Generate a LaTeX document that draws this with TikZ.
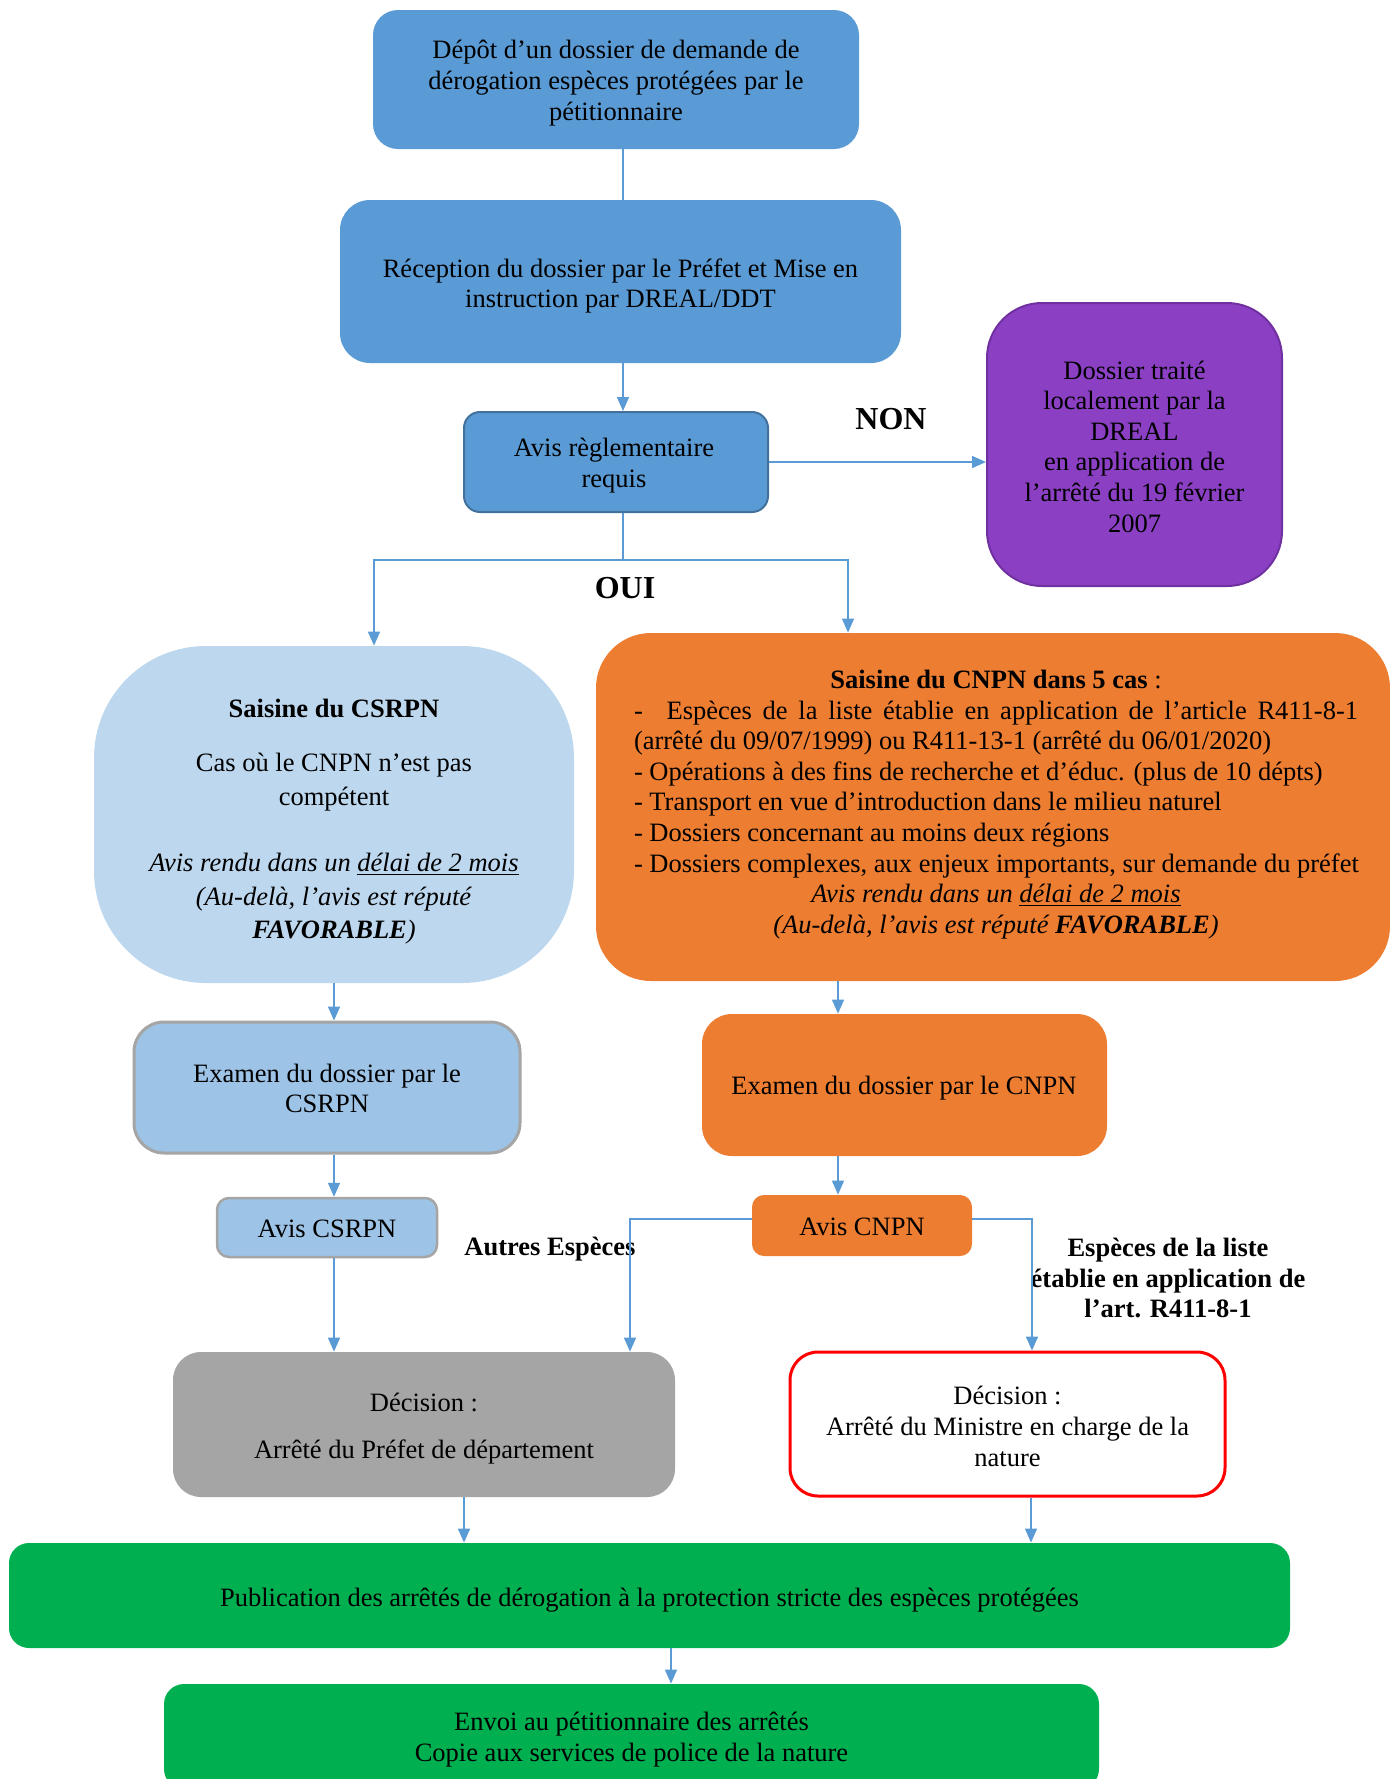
\documentclass[tikz,border=0pt]{standalone}
\usepackage{fontspec}
\setmainfont{Liberation Serif}
\usetikzlibrary{arrows.meta}
\definecolor{boxblue}{HTML}{5B9BD5}
\definecolor{boxblueb}{HTML}{41719C}
\definecolor{lightblue}{HTML}{BDD7EE}
\definecolor{midblue}{HTML}{9DC3E6}
\definecolor{greyb}{HTML}{A5A5A5}
\definecolor{orangef}{HTML}{ED7D31}
\definecolor{purplef}{HTML}{8B40C4}
\definecolor{purpleb}{HTML}{7030A0}
\definecolor{greyf}{HTML}{A5A5A5}
\definecolor{redb}{HTML}{FF0000}
\definecolor{greenf}{HTML}{00B050}
\definecolor{arrowc}{HTML}{5B9BD5}
\begin{document}
\begin{tikzpicture}[x=0.5pt,y=-0.5pt,
  box/.style={inner sep=0pt},
  tx/.style={inner sep=0pt, align=center, text=black,
    font=\fontsize{13.25}{15.3}\selectfont},
  lbl/.style={inner sep=0pt, align=center, text=black,
    font=\bfseries\fontsize{13.25}{15.3}\selectfont},
  biglbl/.style={inner sep=0pt, text=black,
    font=\bfseries\fontsize{16}{19}\selectfont},
  arr/.style={draw=arrowc, line width=0.75pt, -{Triangle[length=7pt,width=6pt]}},
  ln/.style={draw=arrowc, line width=0.75pt}]
\useasboundingbox (0,0) rectangle (1389,1779);

% box shapes
\node[box, fill=boxblue, minimum width=243pt, minimum height=69.5pt, rounded corners=12.5pt] (depot) at (616,79.5) {};
\node[box, fill=boxblue, minimum width=280.5pt, minimum height=81.5pt, rounded corners=15pt] (reception) at (620.5,281.5) {};
\node[box, fill=boxblue, draw=boxblueb, line width=1pt, minimum width=152pt, minimum height=50pt, rounded corners=8pt] (avis) at (616,462) {};
\node[box, fill=purplef, draw=purpleb, line width=1pt, minimum width=147.5pt, minimum height=141.5pt, rounded corners=27.5pt] (dreal) at (1134.5,444.5) {};
\node[box, fill=lightblue, minimum width=240pt, minimum height=168.5pt, rounded corners=56pt] (saisineL) at (334,814.5) {};
\node[box, fill=orangef, minimum width=397pt, minimum height=174pt, rounded corners=27.5pt] (cnpn) at (993,807) {};
\node[box, fill=midblue, draw=greyb, line width=1.5pt, minimum width=193pt, minimum height=65.5pt, rounded corners=15pt] (examL) at (327,1087.5) {};
\node[box, fill=orangef, minimum width=202.5pt, minimum height=71pt, rounded corners=15pt] (examR) at (904.5,1085) {};
\node[box, fill=midblue, draw=greyb, line width=1.25pt, minimum width=110pt, minimum height=29.5pt, rounded corners=6pt] (avisL) at (327,1227.5) {};
\node[box, fill=orangef, minimum width=110pt, minimum height=30.5pt, rounded corners=6pt] (avisR) at (862,1225.5) {};
\node[box, fill=greyf, minimum width=251pt, minimum height=72.5pt, rounded corners=14pt] (grey) at (424,1424.5) {};
\node[box, fill=white, draw=redb, line width=1.5pt, minimum width=217.5pt, minimum height=72pt, rounded corners=14pt] (red) at (1007.5,1424) {};
\node[box, fill=greenf, minimum width=640.5pt, minimum height=52.5pt, rounded corners=10pt] (pub) at (649.5,1595.5) {};
\node[box, fill=greenf, minimum width=467.5pt, minimum height=52.5pt, rounded corners=10pt] (env) at (631.5,1736.5) {};

% box texts
\node[tx] (depotT) at (616,83)
  {Dépôt d’un dossier de demande de\\dérogation espèces protégées par le\\pétitionnaire};
\node[tx] (receptionT) at (620.5,286)
  {Réception du dossier par le Préfet et Mise en\\instruction par DREAL/DDT};
\node[tx] (avisT) at (614,465.5) {Avis règlementaire\\requis};
\node[tx] (drealT) at (1134.5,446.5)
  {Dossier traité\\localement par la\\DREAL\\en application de\\l’arrêté du 19 février\\2007};
\node[tx, font=\fontsize{13.25}{16.75}\selectfont] (saisineLT) at (334,821.5)
  {\textbf{Saisine du CSRPN}\\[10.5pt]
   Cas où le CNPN n’est pas\\compétent\\[16.5pt]
   \textit{Avis rendu dans un \underline{délai de 2 mois}}\\
   \textit{(Au-delà, l’avis est réputé}\\
   \textit{\textbf{FAVORABLE})}};
\node[tx, align=left] (cnpnT) at (996,804.5) {%
  \makebox[362pt][c]{\textbf{Saisine du CNPN dans 5 cas} :}\\
  \makebox[362pt][s]{-\hspace{0.9em}Espèces de la liste établie en application de l’article R411-8-1}\\
  \makebox[362pt][l]{(arrêté du 09/07/1999) ou R411-13-1 (arrêté du 06/01/2020)}\\
  \makebox[362pt][l]{- Opérations à des fins de recherche et d’éduc. (plus de 10 dépts)}\\
  \makebox[362pt][l]{- Transport en vue d’introduction dans le milieu naturel}\\
  \makebox[362pt][l]{- Dossiers concernant au moins deux régions}\\
  \makebox[362pt][l]{- Dossiers complexes, aux enjeux importants, sur demande du préfet}\\
  \makebox[362pt][c]{\itshape Avis rendu dans un \underline{délai de 2 mois}}\\
  \makebox[362pt][c]{\itshape (Au-delà, l’avis est réputé \textbf{FAVORABLE})}};
\node[tx] (examLT) at (327,1088.6) {Examen du dossier par le\\CSRPN};
\node[tx] (examRT) at (904,1088.4) {Examen du dossier par le CNPN};
\node[tx] (avisLT) at (327,1228.6) {Avis CSRPN};
\node[tx] (avisRT) at (862,1226.6) {Avis CNPN};
\node[tx] (greyT) at (424,1429) {Décision :\\[8.2pt]Arrêté du Préfet de département};
\node[tx] (redT) at (1007.5,1426.3) {Décision :\\Arrêté du Ministre en charge de la\\nature};
\node[tx] (pubT) at (649.5,1600)
  {Publication des arrêtés de dérogation à la protection stricte des espèces protégées};
\node[tx] (envT) at (631.5,1739.3)
  {Envoi au pétitionnaire des arrêtés\\Copie aux services de police de la nature};

% labels
\node[biglbl] (non) at (891,419) {NON};
\node[biglbl] (oui) at (625,588) {OUI};
\node[lbl] (autres) at (550,1249) {Autres Espèces};
\node[lbl] (especes) at (1168,1278) {Espèces de la liste\\établie en application de\\l’art. R411-8-1};

% helper coordinates
\coordinate (xA) at (623,0);
\coordinate (jn) at (623,560);
\coordinate (xL) at (374,0);
\coordinate (xR) at (848,0);
\coordinate (xCS) at (334,0);
\coordinate (xCN) at (838,0);
\coordinate (yAv) at (0,1219);
\coordinate (xAu) at (630,0);
\coordinate (xEs) at (1032,0);
\coordinate (xPL) at (464,0);
\coordinate (xPR) at (1031,0);
\coordinate (xEn) at (671,0);

% connectors
\draw[ln] (depot.south -| xA) -- (reception.north -| xA);
\draw[arr] (reception.south -| xA) -- (avis.north -| xA);
\draw[arr] (avis.east) -- (avis.east -| dreal.west);
\draw[ln] (avis.south -| xA) -- (jn);
\draw[arr] (jn) -| (saisineL.north -| xL);
\draw[arr] (jn) -| (cnpn.north -| xR);
\draw[arr] (saisineL.south -| xCS) -- (examL.north -| xCS);
\draw[arr] (examL.south -| xCS) -- (avisL.north -| xCS);
\draw[arr] (avisL.south -| xCS) -- (grey.north -| xCS);
\draw[arr] (cnpn.south -| xCN) -- (examR.north -| xCN);
\draw[arr] (examR.south -| xCN) -- (avisR.north -| xCN);
\draw[arr] (avisR.west |- yAv) -| (grey.north -| xAu);
\draw[arr] (avisR.east |- yAv) -| (red.north -| xEs);
\draw[arr] (grey.south -| xPL) -- (pub.north -| xPL);
\draw[arr] (red.south -| xPR) -- (pub.north -| xPR);
\draw[arr] (pub.south -| xEn) -- (env.north -| xEn);
\end{tikzpicture}
\end{document}
